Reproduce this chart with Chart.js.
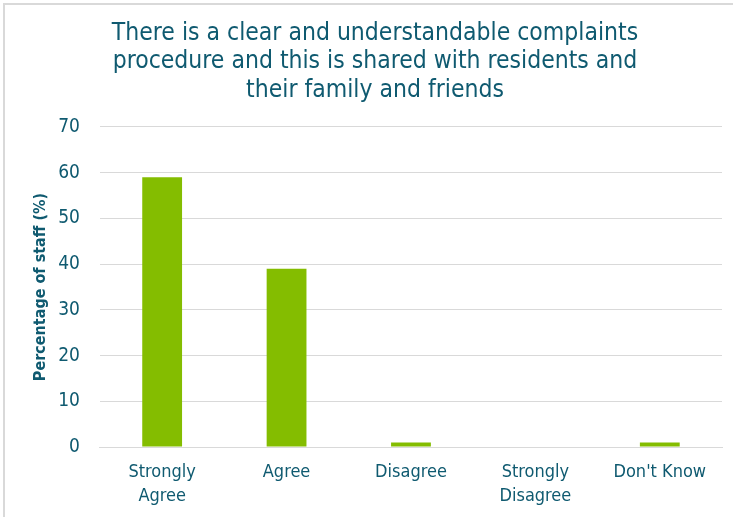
<!DOCTYPE html>
<html>
<head>
<meta charset="utf-8">
<script src="https://cdn.jsdelivr.net/npm/chart.js@4/dist/chart.umd.min.js"></script>
<style>
  html, body { margin: 0; padding: 0; background: #fff; }
  #frame {
    position: absolute; left: 3px; top: 3px; width: 740px; height: 530px;
    border: 2px solid #d9d9d9; box-sizing: border-box;
  }
  #wrap { position: absolute; left: 0; top: 0; width: 733px; height: 517px; }
</style>
</head>
<body>
<div id="frame"></div>
<div id="wrap"><canvas id="chart"></canvas></div>
<script>
// survey responses, percentage of staff
const categories = [['Strongly', 'Agree'], 'Agree', 'Disagree', ['Strongly', 'Disagree'], "Don't Know"];
const percentages = [59, 39, 1, 0, 1];
const titleLines = [
    'There is a clear and understandable complaints',
    'procedure and this is shared with residents and',
    'their family and friends'
];

const textColor = '#0f5a70';
const fontFamily = '"DejaVu Sans Condensed", "DejaVu Sans", sans-serif';

const ctx = document.getElementById('chart').getContext('2d');
new Chart(ctx, {
    type: 'bar',
    data: {
        labels: categories,
        datasets: [{
            label: 'Percentage of staff',
            data: percentages,
            backgroundColor: '#84bd00',
            borderWidth: 0,
            categoryPercentage: 1,
            barPercentage: 0.32
        }]
    },
    options: {
        responsive: true,
        maintainAspectRatio: false,
        animation: false,
        layout: { padding: { left: 28, right: 11, top: 19, bottom: 4 } },
        plugins: {
            legend: { display: false },
            tooltip: { enabled: false },
            title: {
                display: true,
                text: titleLines,
                color: textColor,
                font: { family: fontFamily, size: 24.5, weight: 'normal', lineHeight: 1.17 },
                padding: { top: 0, bottom: 22 }
            }
        },
        scales: {
            x: {
                grid: { display: false },
                border: { color: '#d9d9d9', width: 1 },
                ticks: {
                    color: textColor,
                    font: { family: fontFamily, size: 18, lineHeight: 1.33 },
                    maxRotation: 0,
                    padding: 5
                }
            },
            y: {
                min: 0,
                max: 70,
                ticks: {
                    stepSize: 10,
                    color: textColor,
                    font: { family: fontFamily, size: 19 },
                    padding: 20
                },
                grid: { color: '#d9d9d9', drawTicks: false },
                border: { display: false },
                title: {
                    display: true,
                    text: 'Percentage of staff (%)',
                    color: textColor,
                    font: { family: fontFamily, size: 16, weight: 'bold' },
                    padding: { top: 3, bottom: -12 }
                }
            }
        }
    }
});
</script>
</body>
</html>
